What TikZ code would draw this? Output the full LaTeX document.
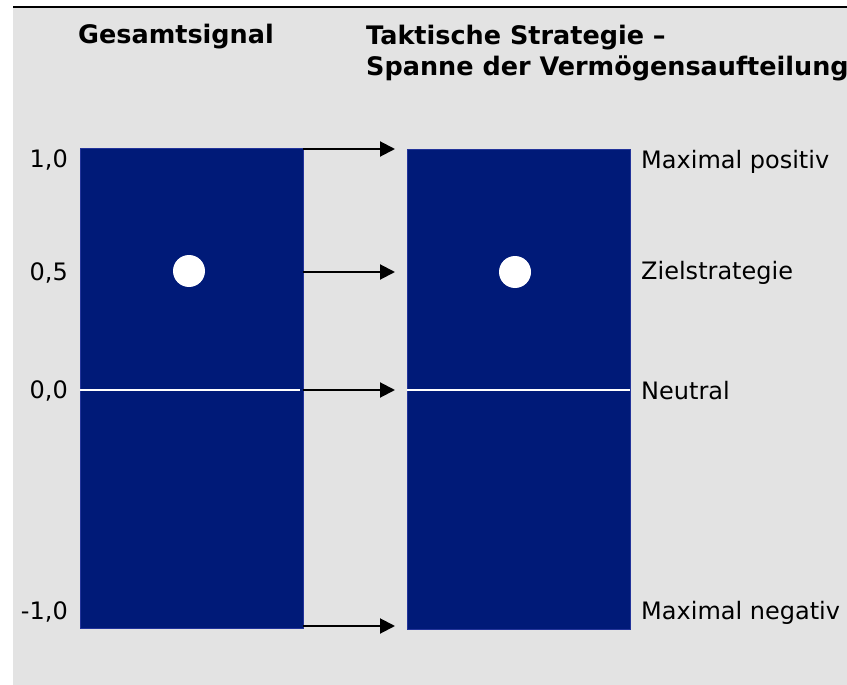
\documentclass[tikz,border=0pt]{standalone}
\usepackage{fontspec}
\setmainfont{DejaVu Sans}
\usetikzlibrary{
  arrows.meta,
  positioning
}
\definecolor{panelgrey}{HTML}{E3E3E3}
\definecolor{barblue}{HTML}{001A78}
\definecolor{baredge}{HTML}{23349A}

\begin{document}
\begin{tikzpicture}[
  x=1pt, y=-1pt,
  font=\fontsize{24}{28}\selectfont,
  bar/.style={
    rectangle, fill=barblue, draw=baredge, line width=0.8pt,
    minimum width=223pt, minimum height=480pt, inner sep=0pt
  },
  dot/.style={circle, fill=white, minimum size=32pt, inner sep=0pt},
  arrow/.style={-{Triangle[length=15pt, width=15pt]}, black, line width=2pt},
  zeroline/.style={white, line width=2pt},
  heading/.style={font=\bfseries\fontsize{25.5}{32}\selectfont,
    anchor=base west, inner sep=0pt, align=left},
  scalelabel/.style={anchor=base east, inner sep=0pt},
  levellabel/.style={anchor=base west, inner sep=0pt},
]
\useasboundingbox (0,0) rectangle (847,685);

% panel
\fill[panelgrey] (13,8) rectangle (847,685);
\draw[black, line width=2pt] (13,7) -- (847,7);

% headings (base anchor sits on the last line)
\node[heading] (hsignal) at (78,44) {Gesamtsignal};
\node[heading] (htactic) at (366,76) {Taktische Strategie –\\Spanne der Vermögensaufteilung};

% Gesamtsignal column
\node[bar] (gbar) at (191.5,388) {};
\draw[zeroline] (gbar.west |- 0,390) -- ([xshift=-3pt]gbar.east |- 0,390);
\node[dot] (gdot) at (189,271) {};
\node[scalelabel] (s10)  at (68,167) {1,0};
\node[scalelabel] (s05)  at (68,280) {0,5};
\node[scalelabel] (s00)  at (68,398) {0,0};
\node[scalelabel] (sm10) at (68,619) {-1,0};

% tactical range column
\node[bar] (tbar) at (518.5,389) {};
\draw[zeroline] (tbar.west |- 0,390) -- (tbar.east |- 0,390);
\node[dot] (tdot) at (515,272) {};
\node[levellabel] (lmax)  at (641,168) {Maximal positiv};
\node[levellabel] (ltgt)  at (641,279) {Zielstrategie};
\node[levellabel] (lneu)  at (641,399) {Neutral};
\node[levellabel] (lmin)  at (641,619) {Maximal negativ};

% mapping arrows
\coordinate (a10)  at (395,149);
\coordinate (a05)  at (395,272);
\coordinate (a00)  at (395,390);
\coordinate (am10) at (395,626);
\draw[arrow] (gbar.east |- a10)  -- (a10);
\draw[arrow] (gbar.east |- a05)  -- (a05);
\draw[arrow] (gbar.east |- a00)  -- (a00);
\draw[arrow] (gbar.east |- am10) -- (am10);

\end{tikzpicture}
\end{document}
